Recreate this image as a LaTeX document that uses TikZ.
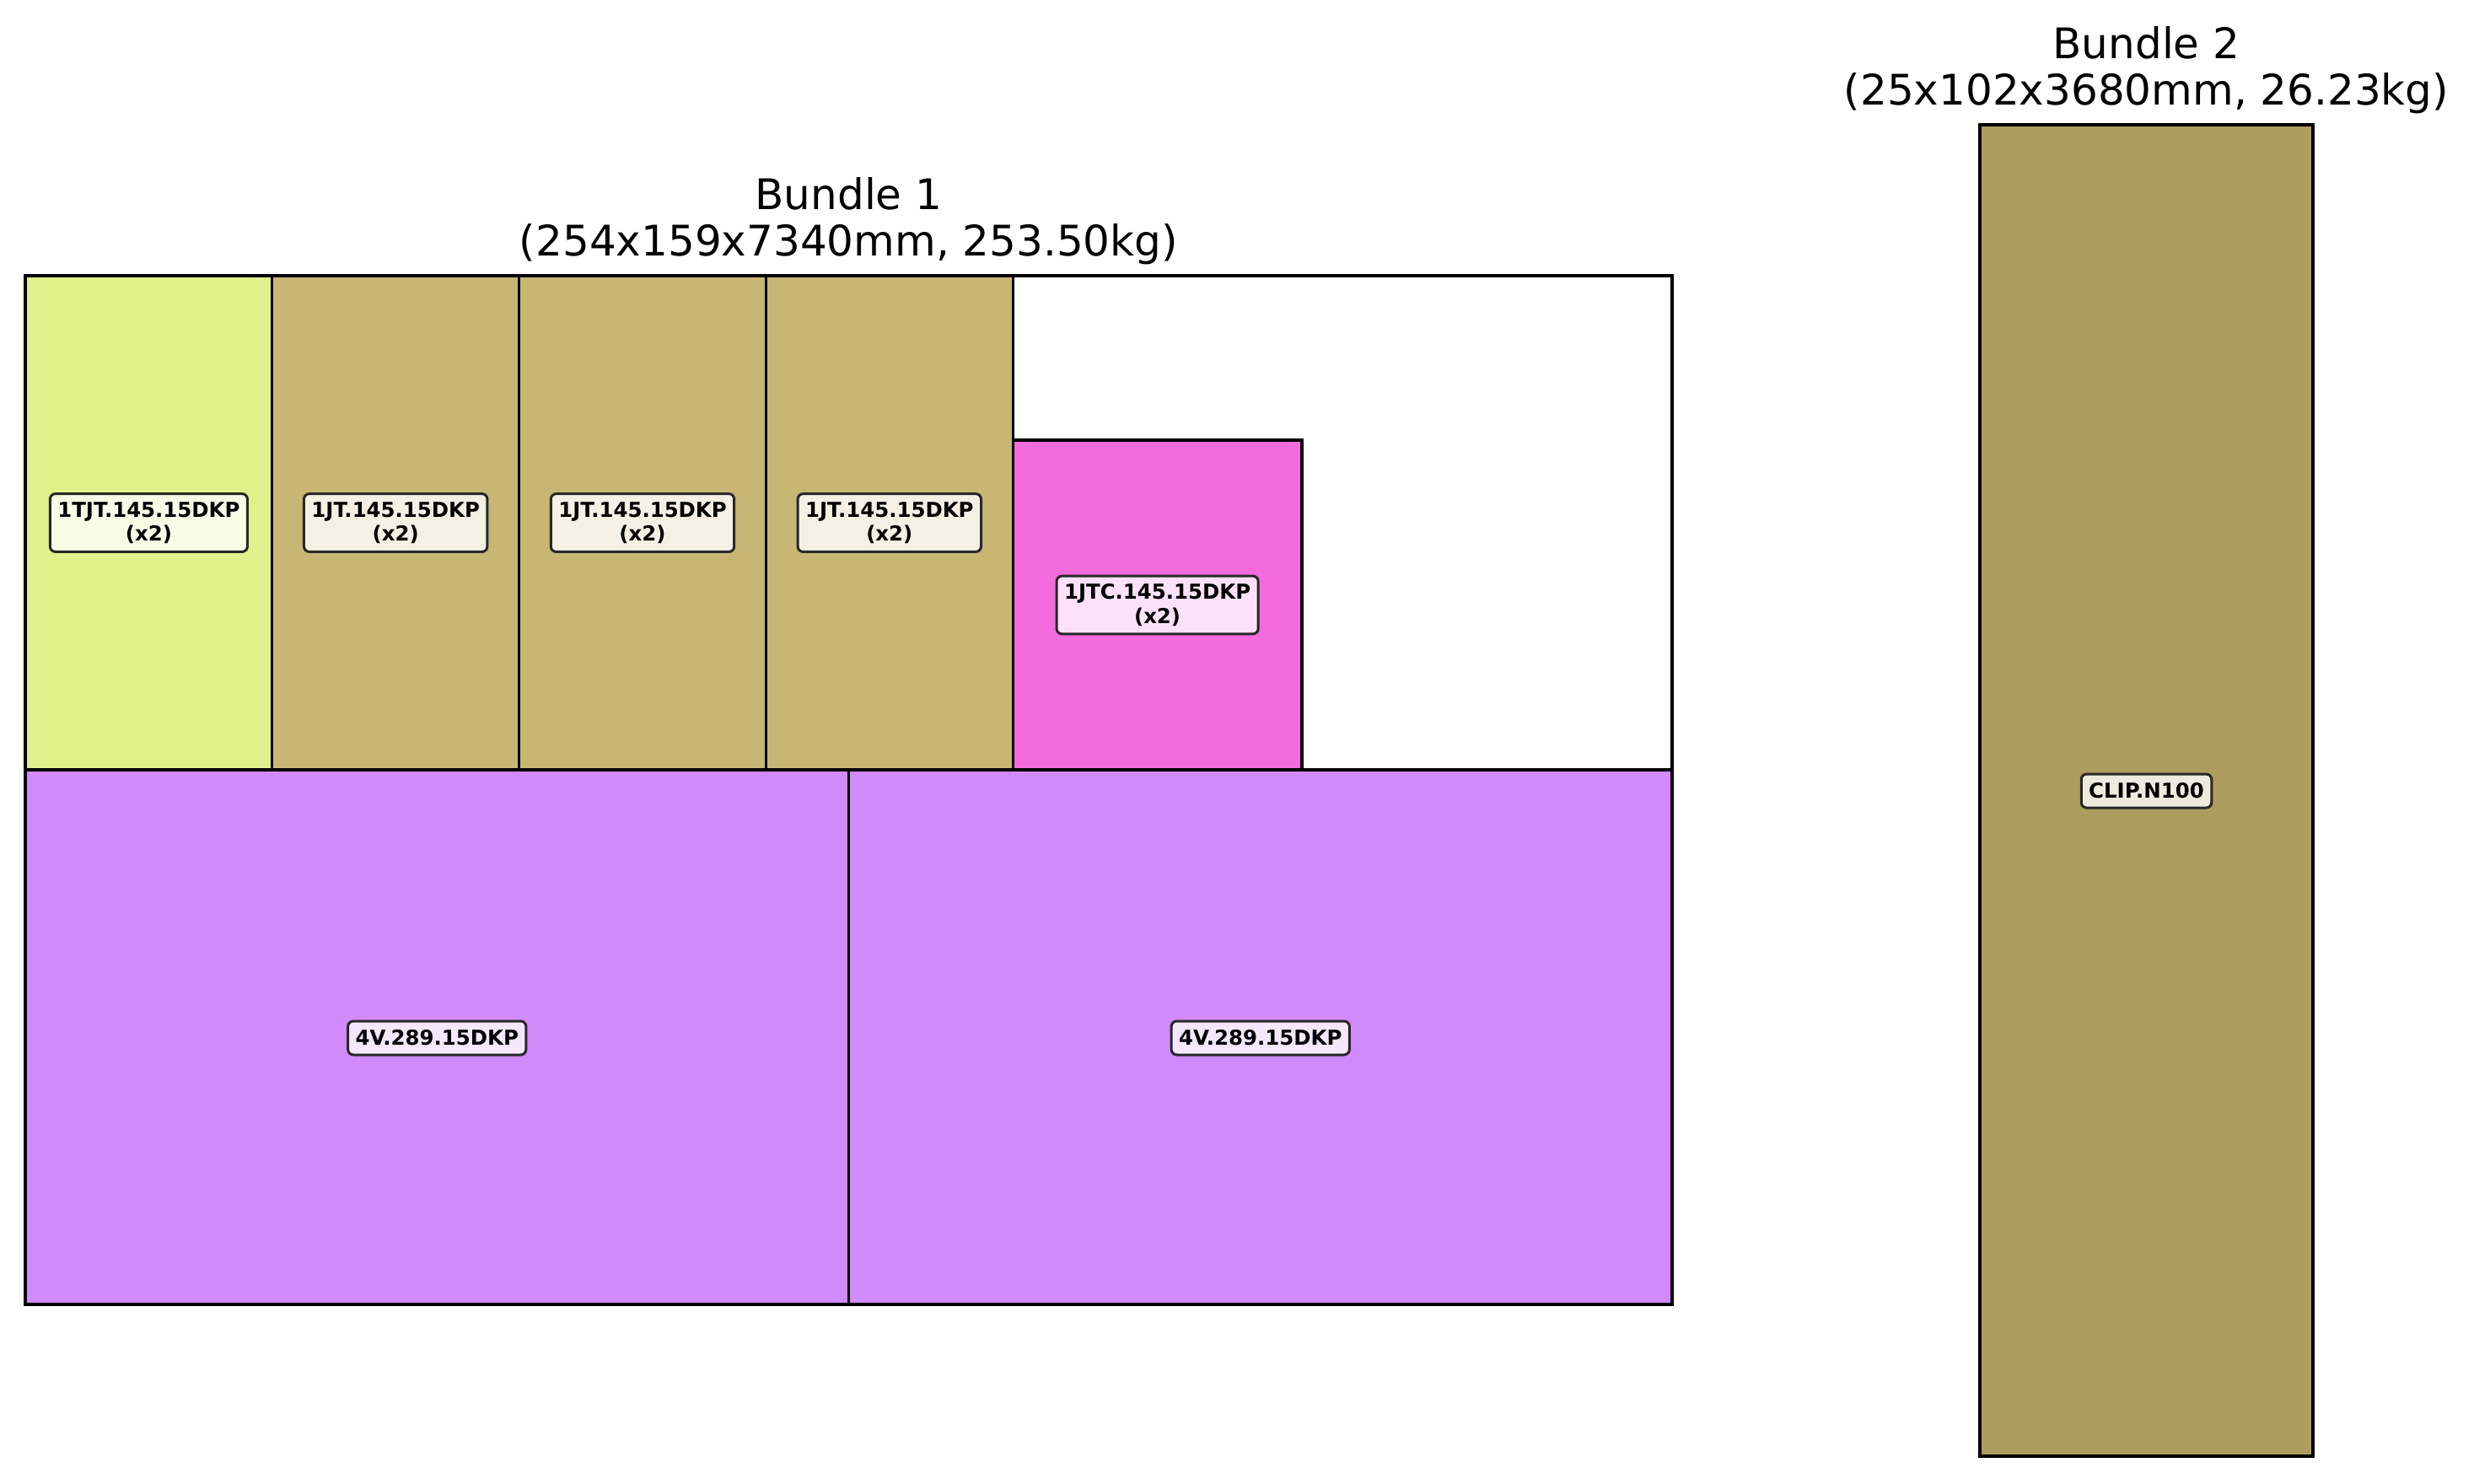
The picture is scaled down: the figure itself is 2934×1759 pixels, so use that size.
\documentclass[tikz,border=0pt]{standalone}
\usepackage{fontspec}
\setmainfont{DejaVu Sans}
\definecolor{cyg}{RGB}{224,240,138}
\definecolor{ctan}{RGB}{200,182,116}
\definecolor{cpink}{RGB}{243,107,220}
\definecolor{cpurple}{RGB}{209,138,249}
\definecolor{colive}{RGB}{173,157,94}
\definecolor{cedge}{RGB}{40,40,40}
\begin{document}
\begin{tikzpicture}[x=0.25pt,y=-0.25pt,
  piece/.style={draw=black, line width=0.8pt},
  lbl/.style={draw=cedge, line width=0.75pt, rounded corners=1.6pt, fill=white, fill opacity=0.8, text opacity=1, inner xsep=2.25pt, inner ysep=1pt, font=\fontsize{6.1}{7.1}\selectfont\bfseries, align=center, text=black},
  lbla/.style={lbl, minimum height=10pt},
  lblb/.style={lbl, minimum height=17.2pt},
  ttl/.style={font=\fontsize{12.5}{13.75}\selectfont, anchor=base, inner sep=0pt}]
\fill[white] (0,0) rectangle (2934,1759);
\useasboundingbox (0,0) rectangle (2934,1759);
% Bundle 1
\draw[piece, fill=white] (30,327) rectangle (1983,1547);
\draw[piece, fill=cyg] (30,327) rectangle (322.8,913);
\draw[piece, fill=ctan] (322.8,327) rectangle (615.6,913);
\draw[piece, fill=ctan] (615.6,327) rectangle (908.4,913);
\draw[piece, fill=ctan] (908.4,327) rectangle (1201.2,913);
\draw[piece, fill=cpink] (1201.2,522) rectangle (1544,913);
\draw[piece, fill=cpurple] (30,913) rectangle (1006.5,1547);
\draw[piece, fill=cpurple] (1006.5,913) rectangle (1983,1547);
% Bundle 2
\draw[piece, fill=colive] (2348,148) rectangle (2743,1727);
% Labels
\node[lblb] (l1) at (176.4,620) {1TJT.145.15DKP\\(x2)};
\node[lblb] (l2) at (469.2,620) {1JT.145.15DKP\\(x2)};
\node[lblb] (l3) at (762,620) {1JT.145.15DKP\\(x2)};
\node[lblb] (l4) at (1054.8,620) {1JT.145.15DKP\\(x2)};
\node[lblb] (l5) at (1372.6,717.5) {1JTC.145.15DKP\\(x2)};
\node[lbla] (l6) at (518.25,1231) {4V.289.15DKP};
\node[lbla] (l7) at (1494.75,1231) {4V.289.15DKP};
\node[lbla] (l8) at (2545.5,938) {CLIP.N100};
% Titles
\node[ttl] (t1a) at (1006.5,248) {Bundle 1};
\node[ttl] (t1b) at (1006.5,303) {(254x159x7340mm, 253.50kg)};
\node[ttl] (t2a) at (2545.5,69) {Bundle 2};
\node[ttl] (t2b) at (2545.5,124) {(25x102x3680mm, 26.23kg)};
\end{tikzpicture}
\end{document}
